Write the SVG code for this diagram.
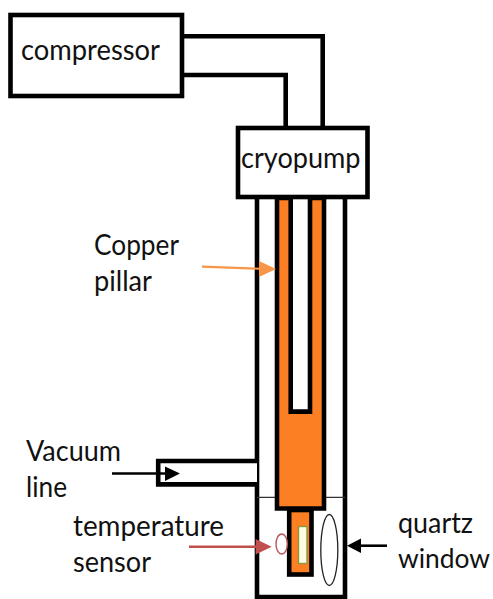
<svg xmlns="http://www.w3.org/2000/svg" width="493" height="599" viewBox="0 0 493 599">
<style>
.b{fill:#fff;stroke:#000;stroke-width:4.6}
.o{fill:#fd7f23;stroke:#000;stroke-width:4.6}
.l{fill:none;stroke:#000;stroke-width:4.6}
text{font-family:"Lato","Open Sans","Liberation Sans",sans-serif;font-size:29px;fill:#111}
</style>
<rect width="493" height="599" fill="#fff"/>
<g id="connectors">
<path class="l" d="M184 36.300H322.700V127"/>
<path class="l" d="M184 75H285.700V127"/>
</g>
<g id="tube">
<path class="l" d="M257 198V597H345V198"/>
<path d="M257 497.300H345" fill="none" stroke="#333" stroke-width="1.200"/>
</g>
<g id="vacuum-line">
<path class="b" d="M257 461H158.200V484.400H257"/>
<text x="26" y="461" textLength="95" lengthAdjust="spacingAndGlyphs">Vacuum</text>
<text x="26" y="497" textLength="41" lengthAdjust="spacingAndGlyphs">line</text>
<path d="M112 473.500H166" stroke="#000" stroke-width="2.600"/>
<path d="M165 466.500L180 473.500L165 481Z"/>
</g>
<g id="compressor">
<rect class="b" x="10.500" y="15" width="171.500" height="81"/>
<text x="21" y="60" textLength="139" lengthAdjust="spacingAndGlyphs">compressor</text>
</g>
<g id="cryopump">
<rect class="b" x="238" y="128" width="129.500" height="69"/>
<text x="241" y="168" textLength="119.500" lengthAdjust="spacingAndGlyphs">cryopump</text>
</g>
<g id="copper-pillar">
<path class="o" d="M277 198V508.500H324V198H310V411.600H290.700V198Z"/>
<rect class="o" x="289.200" y="510" width="22.300" height="64.500"/>
<text x="94" y="255" textLength="85" lengthAdjust="spacingAndGlyphs">Copper</text>
<text x="94" y="291" textLength="58" lengthAdjust="spacingAndGlyphs">pillar</text>
<path d="M202 266.700L262 268.800" stroke="#f79646" stroke-width="2.200"/>
<path d="M259 261L276 269L259 277Z" fill="#f79646"/>
</g>
<g id="temperature-sensor">
<rect x="298.500" y="526.500" width="8.500" height="37" fill="#fdfde8" stroke="#8a9a3b" stroke-width="1.400"/>
<ellipse cx="281.700" cy="544" rx="5.700" ry="10" fill="none" stroke="#b9555a" stroke-width="1.400"/>
<text x="73" y="535.700" textLength="151" lengthAdjust="spacingAndGlyphs">temperature</text>
<text x="73" y="571.700" textLength="78" lengthAdjust="spacingAndGlyphs">sensor</text>
<path d="M189 546.700H257" stroke="#c0504d" stroke-width="2.400"/>
<path d="M255.700 539L271.700 546.700L255.700 554.500Z" fill="#c0504d"/>
</g>
<g id="quartz-window">
<ellipse cx="329.300" cy="550" rx="8.500" ry="35.500" fill="#fff" stroke="#222" stroke-width="1.300"/>
<text x="398" y="532.700" textLength="75" lengthAdjust="spacingAndGlyphs">quartz</text>
<text x="398" y="568" style="font-size:27.500px" textLength="92" lengthAdjust="spacingAndGlyphs">window</text>
<path d="M359 545.700H387" stroke="#000" stroke-width="2.600"/>
<path d="M361 538.500L347 545.700L361 553Z"/>
</g>
</svg>
